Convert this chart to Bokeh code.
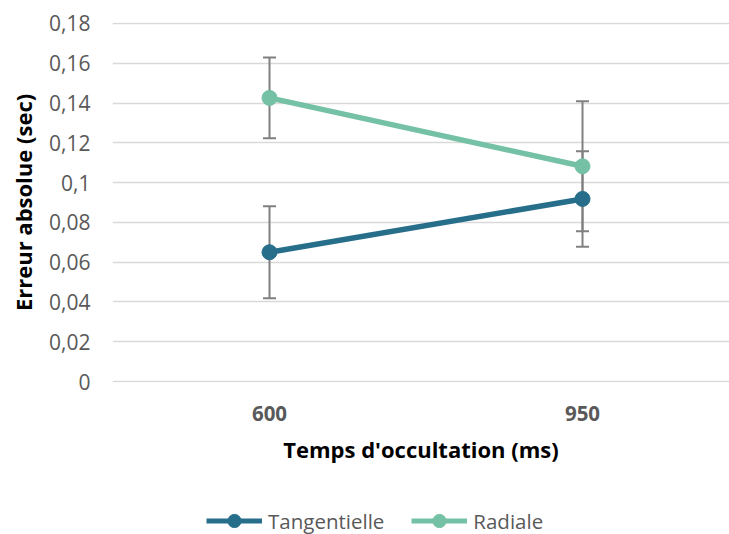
from bokeh.plotting import figure
from bokeh.layouts import column
from bokeh.models import Range1d, Legend, LegendItem, Whisker, ColumnDataSource, FixedTicker
from bokeh.embed import file_html
from bokeh.resources import INLINE

categories = ["600", "950"]
tang = [0.065, 0.0918]
tang_err = [0.0231, 0.024]
rad = [0.1426, 0.1082]
rad_err = [0.0203, 0.0327]
series_names = ["Tangentielle", "Radiale"]
y_ticks = [0, 0.02, 0.04, 0.06, 0.08, 0.1, 0.12, 0.14, 0.16, 0.18]
y_tick_labels = ["0", "0,02", "0,04", "0,06", "0,08", "0,1", "0,12", "0,14", "0,16", "0,18"]

C_TANG = "#276E8B"
C_RAD = "#75C1A5"
FONT = "Open Sans"

xs = list(range(len(categories)))

p = figure(width=729, height=480, output_backend="svg", toolbar_location=None,
           x_range=Range1d(-0.5016, 1.4696), y_range=Range1d(-0.0005, 0.1805),
           min_border_left=112, min_border_right=0, min_border_top=22, min_border_bottom=98)
p.outline_line_color = None
p.background_fill_color = "white"
p.border_fill_color = "white"

# axes
p.xaxis.ticker = FixedTicker(ticks=xs)
p.xaxis.major_label_overrides = {i: c for i, c in zip(xs, categories)}
p.yaxis.ticker = FixedTicker(ticks=y_ticks)
p.yaxis.major_label_overrides = {t: l for t, l in zip(y_ticks, y_tick_labels)}
for ax in (p.xaxis[0], p.yaxis[0]):
    ax.axis_line_color = None
    ax.major_tick_line_color = None
    ax.minor_tick_line_color = None
    ax.major_tick_out = 0
    ax.major_tick_in = 0
    ax.minor_tick_out = 0
    ax.minor_tick_in = 0
    ax.major_label_text_font = FONT
    ax.major_label_text_color = "#595959"
    ax.axis_label_text_font = FONT
    ax.axis_label_text_font_style = "bold"
    ax.axis_label_text_color = "black"
    ax.axis_label_text_font_size = "22px"
p.xaxis.major_label_text_font_size = "20.5px"
p.xaxis.major_label_text_font_style = "bold"
p.yaxis.major_label_text_font_size = "21px"
p.xaxis.axis_label = "Temps d'occultation (ms)"
p.yaxis.axis_label = "Erreur absolue (sec)"
p.xaxis.major_label_standoff = 23
p.xaxis.axis_label_standoff = 10
p.yaxis.major_label_standoff = 22
p.yaxis.axis_label_standoff = 8

p.xgrid.grid_line_color = None
p.ygrid.grid_line_color = "#D9D9D9"
p.ygrid.grid_line_width = 1.5

# error bars
for vals, errs in ((tang, tang_err), (rad, rad_err)):
    src = ColumnDataSource(dict(x=xs,
                                lo=[v - e for v, e in zip(vals, errs)],
                                hi=[v + e for v, e in zip(vals, errs)]))
    w = Whisker(base="x", lower="lo", upper="hi", source=src, dimension="height",
                line_color="#808080", line_width=2, level="underlay")
    for h in (w.upper_head, w.lower_head):
        h.size = 13
        h.line_color = "#808080"
        h.line_width = 2
    p.add_layout(w)

for vals, col in ((tang, C_TANG), (rad, C_RAD)):
    p.line(xs, vals, line_color=col, line_width=5.5)
    p.scatter(xs, vals, size=15, fill_color=col, line_color=col)

# legend strip: a small figure holding only the legend (its series lie outside its view)
lf = figure(width=729, height=54, output_backend="svg", toolbar_location=None,
            x_range=Range1d(0, 1), y_range=Range1d(1, 2),
            x_axis_location=None, y_axis_location=None,
            min_border_left=0, min_border_right=0, min_border_top=0, min_border_bottom=0)
lf.outline_line_color = None
lf.grid.visible = False
items = []
for name, vals, col in zip(series_names, (tang, rad), (C_TANG, C_RAD)):
    l = lf.line(xs, vals, line_color=col, line_width=5)
    s = lf.scatter(xs, vals, size=14, fill_color=col, line_color=col)
    items.append(LegendItem(label=name, renderers=[l, s]))
legend = Legend(items=items, orientation="horizontal", location=(94, -3),
                border_line_color=None, background_fill_alpha=0,
                padding=0, margin=0, spacing=27, label_standoff=6,
                glyph_width=56, glyph_height=33,
                label_text_font=FONT, label_text_font_size="20.5px",
                label_text_color="#595959")
lf.add_layout(legend, "center")

root = column(p, lf, spacing=0)

open("out.html", "w").write(file_html(root, INLINE))
